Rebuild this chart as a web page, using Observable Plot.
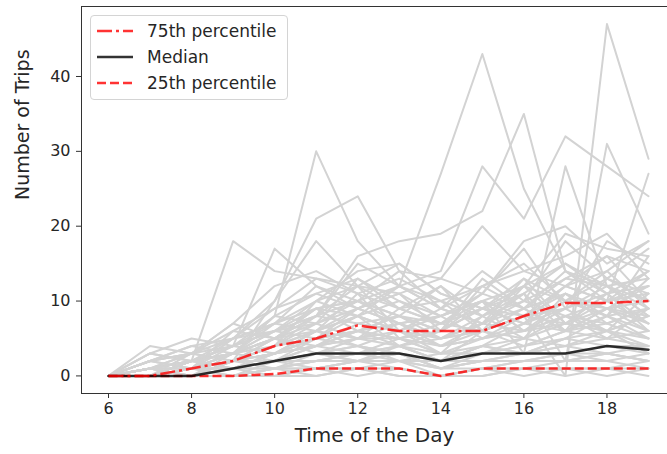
<!DOCTYPE html>
<html>
<head>
<meta charset="utf-8">
<script src="https://cdn.jsdelivr.net/npm/d3@7"></script>
<script src="https://cdn.jsdelivr.net/npm/@observablehq/plot@0.6"></script>
<style>
  html, body { margin: 0; padding: 0; background: white; }
  #wrap { position: relative; width: 667px; height: 454px; overflow: hidden; font-family: "DejaVu Sans", sans-serif; }
  #legend { position: absolute; left: 90px; top: 15px; width: 196px; height: 83px;
    border: 1px solid #d4d4d4; border-radius: 4px; background: rgba(255,255,255,0.8); }
  .row { position: absolute; left: 6px; height: 24px; display: flex; align-items: center; }
  .row span { margin-left: 14px; font-size: 17px; color: #262626; white-space: nowrap; }
</style>
</head>
<body>
<div id="wrap"></div>
<script>
const hours = [6, 7, 8, 9, 10, 11, 12, 13, 14, 15, 16, 17, 18, 19];

// per-station trip counts (gray lines), values at hours 6..19
const s01 = [0,0,1,2,3,5,8,4,6,10,8,0,47,29];
const s02 = [0,1,0,2,4,6,8,12,27,43,25,14,12,8];
const s03 = [0,0,2,3,5,8,16,18,19,22,35,14,10,12];
const s04 = [0,1,2,4,6,9,10,12,14,28,21,32,28,24];
const s05 = [0,0,1,3,8,30,18,12,10,8,11,6,9,7];
const s06 = [0,2,1,5,10,21,24,14,9,12,15,10,13,11];
const s07 = [0,0,2,18,14,13,11,9,7,10,6,8,5,9];
const s08 = [0,1,3,4,17,12,10,8,12,6,9,11,8,6];
const s09 = [0,0,1,2,10,18,12,15,11,9,13,7,10,14];
const s10 = [0,0,2,3,5,7,9,11,13,20,14,12,16,10];
const s11 = [0,1,1,2,4,6,5,7,8,10,3,28,12,9];
const s12 = [0,0,1,2,3,5,6,8,7,9,11,2,31,19];
const s13 = [0,0,1,1,3,4,6,5,7,9,8,12,10,27];
const s14 = [0,2,3,6,9,11,13,10,8,11,18,20,15,18];
const s15 = [0,1,2,5,7,10,14,15,11,9,12,19,17,16];
const s16 = [0,0,3,7,12,14,11,13,10,12,14,16,19,13];
const s17 = [0,3,2,4,6,8,15,12,9,14,10,18,13,17];
const s18 = [0,0,1,6,5,9,10,14,13,11,17,9,18,15];
const s19 = [0,2,4,3,7,12,9,11,6,13,9,14,11,12];
const s20 = [0,1,0,2,4,7,13,9,12,8,10,13,16,14];
const s21 = [0,0,2,4,8,11,9,7,5,8,12,10,14,18];
const s22 = [0,1,2,3,5,6,8,6,9,7,11,15,12,13];
const s23 = [0,0,1,5,6,10,12,9,7,6,8,11,9,10];
const s24 = [0,0,1,2,3,4,5,6,4,5,6,8,7,9];
const s25 = [0,1,0,1,2,4,3,5,3,4,7,6,9,6];
const s26 = [0,0,0,1,2,3,4,3,2,4,5,7,6,8];
const s27 = [0,0,1,0,2,2,3,4,3,3,4,5,8,5];
const s28 = [0,0,0,1,1,3,2,2,1,3,3,4,5,4];
const s29 = [0,1,1,2,3,5,6,4,5,6,8,9,11,7];
const s30 = [0,0,0,0,1,2,3,2,2,2,3,3,4,3];
const s31 = [0,0,1,1,2,1,2,3,1,2,2,3,3,2];
const s32 = [0,0,0,0,0,1,1,1,0,1,1,2,2,1];
const s33 = [0,0,0,1,0,1,0,1,0,0,1,1,1,2];
const s34 = [0,0,0,0,1,0,1,0,0,1,0,1,0,1];
const s35 = [0,2,4,5,7,9,8,10,7,11,9,13,12,10];
const s36 = [0,1,2,3,6,8,7,6,5,7,6,10,9,12];
const s37 = [0,0,1,2,2,4,5,5,4,6,5,8,10,7];
const s38 = [0,0,0,1,2,3,2,4,2,3,4,6,5,6];
const s39 = [0,4,3,2,4,5,6,5,3,5,6,7,6,5];
const s40 = [0,0,2,1,3,6,4,3,2,4,3,5,4,4];
const s41 = [0,0,0,2,1,2,3,3,1,2,2,3,2,3];
const s42 = [0,0,1,0,0,1,2,1,0,1,1,1,1,1];
const s43 = [0,1,0,0,1,1,1,2,1,1,2,2,3,2];
const s44 = [0,0,0,0,0,0,1,0,0,0,1,0,1,0];
const s45 = [0,3,5,4,6,7,10,8,6,9,7,12,10,11];
const s46 = [0,0,1,3,5,4,6,7,5,6,8,7,9,8];
const s47 = [0,0,0,1,1,2,2,3,1,2,3,4,3,4];
const s48 = [0,2,3,7,5,8,12,6,4,7,9,6,8,9];
const s49 = [0,0,0,0,1,1,2,2,0,1,2,2,3,2];
const s50 = [0,1,1,1,2,3,3,4,2,4,3,5,6,4];
const s51 = [0,0,2,3,6,5,9,7,8,10,6,9,12,8];
const s52 = [0,1,3,2,5,9,6,8,5,7,10,8,6,11];
const s53 = [0,0,1,4,3,6,11,5,6,9,7,10,8,13];
const s54 = [0,2,1,3,8,7,5,9,10,6,12,7,11,6];
const s55 = [0,0,0,2,4,10,8,6,3,8,5,11,7,9];
const s56 = [0,1,2,1,3,4,7,8,6,12,9,6,13,10];
const s57 = [0,0,1,3,2,5,4,6,8,5,7,9,6,8];
const s58 = [0,3,2,4,7,6,9,12,9,7,13,10,8,16];
const s59 = [0,0,1,2,5,3,5,4,2,6,4,6,7,5];
const s60 = [0,1,0,3,4,8,10,7,4,5,8,12,14,9];
const s61 = [0,0,2,1,2,3,4,2,3,3,5,4,6,3];
const s62 = [0,2,3,5,9,13,12,11,8,10,12,15,11,14];

const stations = [s01,s02,s03,s04,s05,s06,s07,s08,s09,s10,s11,s12,s13,s14,s15,s16,s17,s18,s19,s20,
  s21,s22,s23,s24,s25,s26,s27,s28,s29,s30,s31,s32,s33,s34,s35,s36,s37,s38,s39,s40,
  s41,s42,s43,s44,s45,s46,s47,s48,s49,s50,s51,s52,s53,s54,s55,s56,s57,s58,s59,s60,s61,s62];

const p75 = [0,0,1,2,4,5,6.75,6,6,6,8,9.75,9.75,10];
const p50 = [0,0,0,1,2,3,3,3,2,3,3,3,4,3.5];
const p25 = [0,0,0,0,0.25,1,1,1,0,1,1,1,1,1];

const xTicks = [6, 8, 10, 12, 14, 16, 18];
const yTicks = [0, 10, 20, 30, 40];
const xLabel = "Time of the Day";
const yLabel = "Number of Trips";
const legendLabels = ["75th percentile", "Median", "25th percentile"];

const grayRows = stations.flatMap((s, i) => s.map((v, j) => ({station: i, hour: hours[j], trips: v})));
const toRows = arr => arr.map((v, j) => ({hour: hours[j], trips: v}));

const chart = Plot.plot({
  width: 667, height: 454,
  marginLeft: 81, marginRight: 0, marginTop: 6, marginBottom: 61,
  style: {fontFamily: "DejaVu Sans", fontSize: "16px", color: "#262626", background: "white"},
  x: {domain: [5.35, 19.65], range: [81, 675]},
  y: {domain: [-2.35, 49.35]},
  marks: [
    Plot.lineY(grayRows, {x: "hour", y: "trips", z: "station", stroke: "#d3d3d3", strokeWidth: 2}),
    Plot.lineY(toRows(p25), {x: "hour", y: "trips", stroke: "red", strokeOpacity: 0.8, strokeWidth: 2.5, strokeDasharray: "9,4", strokeLinecap: "butt"}),
    Plot.lineY(toRows(p50), {x: "hour", y: "trips", stroke: "black", strokeOpacity: 0.8, strokeWidth: 2.5}),
    Plot.lineY(toRows(p75), {x: "hour", y: "trips", stroke: "red", strokeOpacity: 0.8, strokeWidth: 2.5, strokeDasharray: "15,4,3,4", strokeLinecap: "butt"}),
    Plot.frame({stroke: "#333", strokeWidth: 1}),
    Plot.axisX({ticks: xTicks, tickSize: 5, tickPadding: 4, label: null, stroke: "#333"}),
    Plot.axisY({ticks: yTicks, tickSize: 5, tickPadding: 6, label: null, stroke: "#333"}),
    Plot.text([xLabel], {frameAnchor: "bottom", dy: 48, fontSize: 20, fill: "#262626"}),
    Plot.text([yLabel], {frameAnchor: "left", rotate: -90, dx: -59, fontSize: 19, fill: "#262626"})
  ]
});

const wrap = document.getElementById("wrap");
wrap.appendChild(chart);

const legend = document.createElement("div");
legend.id = "legend";
const styles = [
  {color: "red", dash: "15,4,3,4", op: 0.8},
  {color: "black", dash: "none", op: 0.8},
  {color: "red", dash: "9,4", op: 0.8}
];
legendLabels.forEach((lab, i) => {
  const row = document.createElement("div");
  row.className = "row";
  row.style.top = (3 + i * 26) + "px";
  row.innerHTML = `<svg width="36" height="6"><line x1="0" y1="3" x2="36" y2="3" stroke="${styles[i].color}" stroke-opacity="${styles[i].op}" stroke-width="2.5" stroke-dasharray="${styles[i].dash}"/></svg><span>${lab}</span>`;
  legend.appendChild(row);
});
wrap.appendChild(legend);
</script>
</body>
</html>
